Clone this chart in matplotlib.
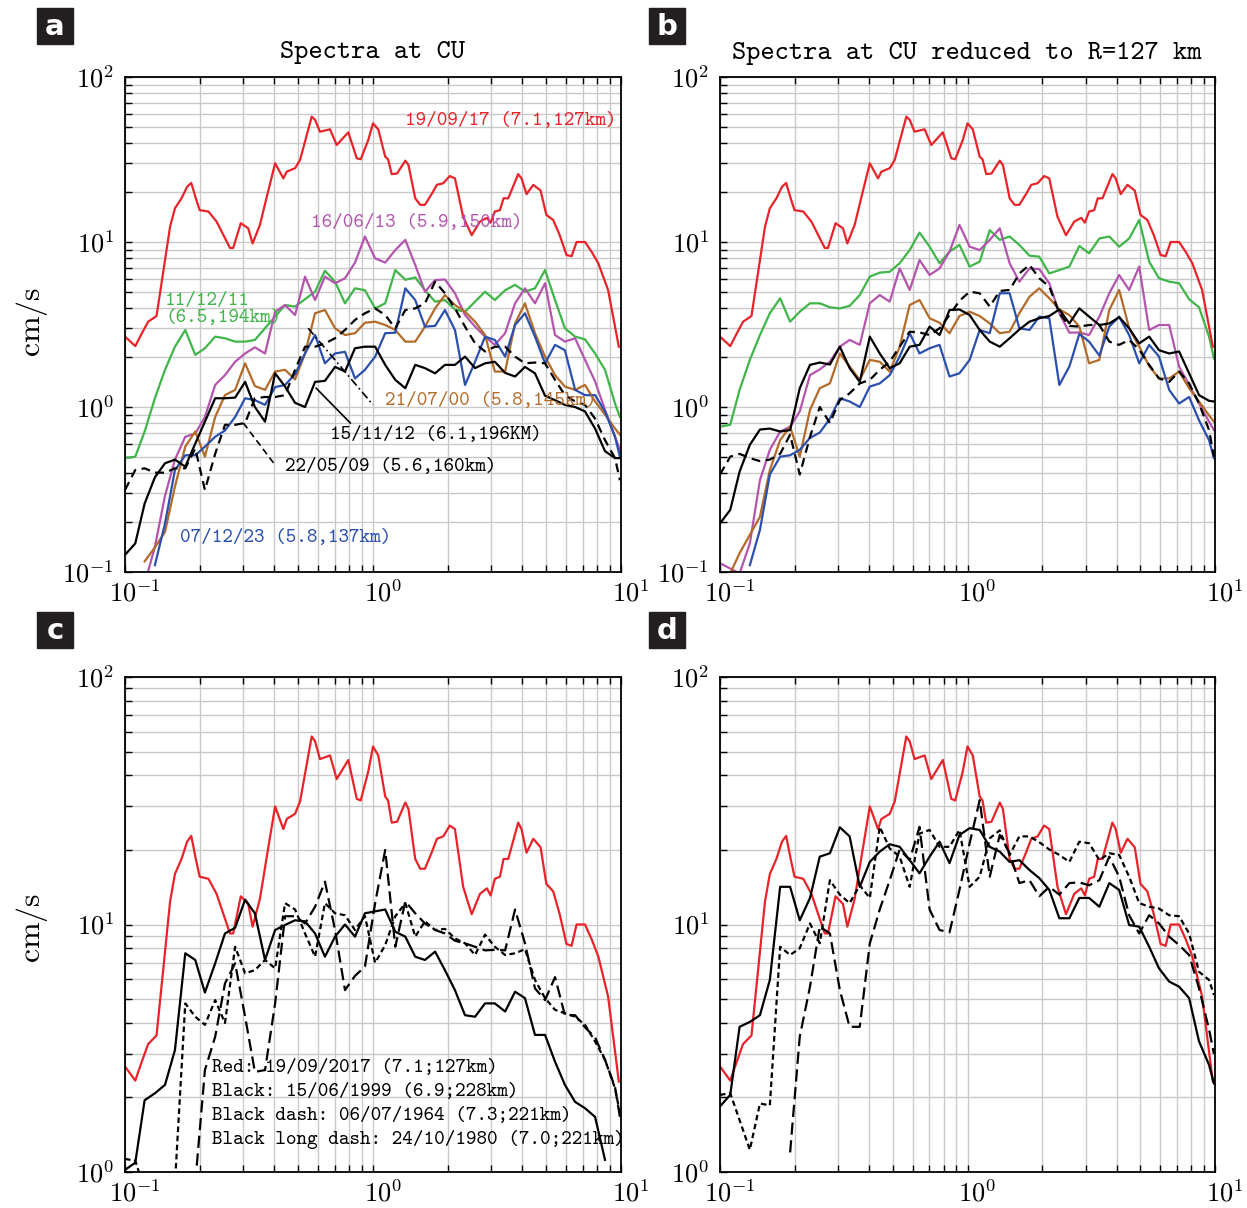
import matplotlib

matplotlib.use('Agg')
import matplotlib.pyplot as plt
import numpy as np
from matplotlib.patches import Rectangle
from matplotlib.ticker import FixedLocator, FuncFormatter, NullFormatter
from matplotlib.transforms import ScaledTranslation

plt.rcParams['mathtext.fontset'] = 'cm'
nan = np.nan

FREQ = [0.100, 0.110, 0.120, 0.132, 0.145, 0.159, 0.175, 0.192, 0.210, 0.231,
        0.253, 0.278, 0.305, 0.334, 0.367, 0.403, 0.442, 0.485, 0.532, 0.584,
        0.640, 0.703, 0.771, 0.846, 0.928, 1.02, 1.12, 1.23, 1.35, 1.48,
        1.62, 1.78, 1.95, 2.14, 2.35, 2.58, 2.83, 3.10, 3.41, 3.74,
        4.10, 4.50, 4.94, 5.42, 5.94, 6.53, 7.16, 7.86, 8.62, 9.46,
        9.90]

# 19/09/17 (same in all panels)
RED_F = [0.100, 0.110, 0.117, 0.124, 0.134, 0.143, 0.152, 0.159, 0.169, 0.178,
         0.185, 0.193, 0.200, 0.217, 0.234, 0.265, 0.273, 0.293, 0.314, 0.327,
         0.350, 0.373, 0.403, 0.435, 0.449, 0.485, 0.508, 0.566, 0.584, 0.611,
         0.671, 0.714, 0.795, 0.860, 0.892, 0.957, 1.00, 1.05, 1.12, 1.15,
         1.19, 1.25, 1.35, 1.39, 1.48, 1.55, 1.62, 1.73, 1.81, 1.92,
         2.04, 2.14, 2.31, 2.50, 2.70, 2.88, 2.98, 3.10, 3.25, 3.36,
         3.51, 3.85, 3.97, 4.16, 4.43, 4.74, 5.00, 5.33, 5.66, 6.03,
         6.32, 6.62, 7.16, 7.62, 8.10, 8.87, 9.80]
RED_V = [2.67, 2.34, 2.8, 3.29, 3.56, 6.76, 12.4, 16.0, 18.4, 21.6,
         22.8, 18.4, 15.6, 15.3, 13.3, 9.2, 9.2, 13.0, 12.1, 9.8,
         12.7, 18.8, 30.0, 24.3, 26.7, 28.0, 31.4, 57.5, 55.0, 46.6,
         48.2, 38.7, 46.2, 32.2, 31.7, 41.5, 52.4, 48.2, 32.9, 31.7,
         25.8, 26.0, 31.1, 29.3, 18.4, 16.8, 16.8, 19.7, 22.2, 22.7,
         25.1, 24.3, 14.2, 11.0, 13.3, 14.0, 13.1, 15.3, 15.6, 18.4,
         18.4, 25.8, 24.3, 19.5, 22.2, 20.5, 14.6, 13.6, 11.0, 8.34,
         8.2, 10.0, 10.0, 8.7, 7.43, 5.12, 2.32]

# panel a: spectra at CU
A_GREEN = [0.49, 0.50, 0.71, 1.13, 1.68, 2.32, 2.93, 2.07, 2.27, 2.67,
           2.61, 2.49, 2.49, 2.55, 3.0, 3.53, 4.15, 4.06, 4.5, 5.0,
           6.7, 5.75, 4.25, 5.24, 5.1, 3.96, 4.25, 6.76, 5.9, 6.1,
           5.1, 4.35, 4.45, 3.9, 3.78, 4.35, 5.0, 4.45, 5.1, 5.5,
           5.0, 5.24, 6.76, 4.45, 3.0, 2.67, 2.57, 2.11, 1.68, 1.05,
           0.87]
A_MAGENTA = [nan, nan, 0.085, 0.142, 0.29, 0.48, 0.66, 0.69, 0.87, 1.36,
             1.56, 1.88, 2.11, 2.3, 2.11, 3.78, 4.15, 3.61, 6.17, 4.45,
             6.17, 5.62, 6.03, 7.5, 10.8, 7.96, 7.5, 8.94, 10.3, 7.26,
             5.0, 5.88, 5.93, 4.89, 3.61, 3.07, 2.67, 2.38, 2.8, 4.25,
             5.24, 4.25, 5.62, 2.73, 2.49, 2.61, 1.93, 1.43, 0.96, 0.66,
             0.55]
A_BROWN = [nan, nan, 0.116, 0.141, 0.175, 0.33, 0.575, 0.71, 0.5, 0.87,
           1.18, 1.27, 1.84, 1.34, 1.27, 1.64, 1.68, 1.47, 2.11, 3.7,
           3.87, 3.0, 2.73, 2.8, 3.24, 3.29, 3.14, 2.93, 2.49, 2.49,
           3.07, 3.96, 4.77, 4.15, 3.78, 3.29, 2.73, 1.64, 1.64, 3.21,
           4.25, 2.8, 2.02, 1.56, 1.33, 1.27, 1.36, 1.08, 0.9, 0.74,
           0.68]
A_BLUE = [nan, nan, nan, 0.11, 0.197, 0.415, 0.51, 0.51, 0.575, 0.66,
          0.72, 0.87, 1.13, 1.1, 1.03, 1.32, 1.36, 1.58, 2.11, 2.73,
          1.84, 2.11, 2.16, 1.49, 1.68, 2.02, 2.8, 2.82, 5.24, 4.45,
          3.07, 3.1, 3.87, 2.93, 1.36, 1.88, 2.67, 2.55, 2.02, 3.14,
          3.7, 2.67, 1.84, 2.38, 2.21, 1.27, 1.18, 1.18, 0.94, 0.66,
          0.5]
A_BLACK = [0.127, 0.149, 0.26, 0.375, 0.456, 0.48, 0.435, 0.60, 0.815, 1.13,
           1.13, 1.14, 1.42, 1.0, 0.815, 1.6, 1.33, 1.06, 1.0, 1.42,
           1.44, 1.75, 1.64, 2.27, 2.32, 2.32, 1.8, 1.46, 1.3, 1.8,
           1.72, 1.6, 1.8, 1.8, 2.02, 1.72, 1.84, 1.88, 1.61, 1.53,
           1.75, 1.6, 1.17, 1.1, 1.03, 1.0, 0.94, 0.74, 0.54, 0.49,
           0.49]
A_BLACK_DASH = [0.314, 0.415, 0.425, 0.4, 0.4, 0.425, 0.425, 0.56, 0.314, 0.52,
                0.78, 0.78, 0.8, 1.13, 1.15, 1.15, 1.18, 1.68, 2.32, 2.32,
                2.43, 2.61, 2.93, 3.37, 3.7, 3.96, 3.61, 3.0, 3.87, 3.96,
                4.25, 5.75, 4.89, 3.96, 3.07, 2.43, 2.17, 2.32, 2.32, 2.02,
                1.84, 1.86, 1.84, 1.46, 1.18, 1.08, 1.03, 0.85, 0.63, 0.49,
                0.36]

# panel b: reduced to R=127 km
B_GREEN = [0.76, 0.78, 1.27, 1.93, 2.73, 3.7, 4.56, 3.29, 3.78, 4.25,
           4.25, 4.02, 3.96, 4.1, 4.77, 6.17, 6.52, 6.6, 7.43, 8.94,
           11.4, 9.37, 7.43, 8.74, 9.6, 7.1, 7.6, 11.8, 10.3, 10.8,
           9.6, 8.26, 8.15, 6.45, 6.76, 7.1, 9.46, 8.54, 10.5, 10.8,
           9.37, 10.5, 13.6, 7.6, 6.03, 5.75, 5.62, 4.5, 4.02, 2.67,
           1.97]
B_MAGENTA = [0.113, 0.105, 0.098, 0.149, 0.36, 0.55, 0.71, 0.76, 0.94, 1.56,
             1.69, 1.88, 2.32, 2.55, 2.38, 4.25, 4.77, 4.35, 6.92, 5.12,
             7.78, 6.31, 6.92, 8.74, 12.7, 9.37, 8.94, 10.3, 12.1, 7.43,
             5.75, 6.92, 6.85, 5.62, 3.7, 2.82, 2.83, 2.73, 3.53, 4.89,
             6.31, 5.12, 7.1, 2.93, 3.14, 3.14, 1.76, 1.36, 1.05, 0.815,
             0.725]
B_BROWN = [nan, 0.098, 0.13, 0.168, 0.216, 0.415, 0.63, 0.76, 0.5, 0.96,
           1.3, 1.39, 2.11, 1.76, 1.46, 1.93, 1.88, 1.64, 2.32, 4.15,
           4.45, 3.45, 3.24, 2.8, 3.56, 3.78, 3.56, 3.21, 2.8, 2.86,
           3.7, 4.66, 5.24, 4.56, 3.9, 3.61, 3.07, 1.84, 1.93, 3.87,
           5.12, 3.0, 2.32, 1.77, 1.49, 1.49, 1.64, 1.3, 1.08, 0.89,
           0.815]
B_BLUE = [nan, nan, nan, 0.11, 0.18, 0.39, 0.5, 0.51, 0.55, 0.65,
          0.7, 0.85, 1.13, 1.08, 1.0, 1.33, 1.39, 1.56, 2.02, 2.8,
          2.11, 2.27, 2.38, 1.53, 1.6, 1.93, 2.93, 2.8, 4.89, 4.89,
          3.0, 2.93, 3.53, 3.45, 1.36, 1.76, 2.77, 2.49, 2.05, 3.07,
          3.53, 2.73, 1.84, 2.38, 2.02, 1.27, 1.05, 1.15, 0.83, 0.63,
          0.49]
B_BLACK = [0.197, 0.238, 0.406, 0.59, 0.73, 0.74, 0.71, 0.725, 1.3, 1.8,
           1.86, 1.81, 2.32, 1.72, 1.42, 2.67, 2.11, 1.72, 1.84, 2.32,
           2.38, 3.07, 2.73, 3.87, 3.9, 3.61, 2.93, 2.49, 2.32, 2.61,
           2.95, 3.29, 3.45, 3.56, 3.9, 3.21, 3.96, 3.53, 3.14, 3.21,
           3.5, 3.0, 2.43, 2.67, 2.21, 2.11, 2.17, 1.6, 1.18, 1.09,
           1.08]
B_BLACK_DASH = [0.39, 0.5, 0.52, 0.49, 0.47, 0.48, 0.52, 0.68, 0.39, 0.66,
                1.0, 0.8, 1.1, 1.21, 1.39, 1.46, 1.68, 1.88, 2.32, 2.86,
                2.83, 2.73, 3.0, 3.61, 4.4, 5.0, 4.89, 4.06, 5.05, 5.12,
                6.45, 7.26, 6.03, 5.37, 3.7, 3.1, 3.07, 3.14, 3.14, 2.49,
                2.38, 2.55, 2.23, 1.8, 1.49, 1.42, 1.64, 1.39, 1.05, 0.725,
                0.5]

# panel c: historical events at CU
C_BLACK = [1.02, 1.09, 1.95, 2.08, 2.25, 3.11, 7.65, 7.19, 5.31, 6.97,
           9.2, 9.7, 12.6, 11.1, 7.19, 9.5, 9.96, 10.4, 10.3, 9.2,
           7.41, 8.93, 10.0, 8.93, 11.1, 11.3, 11.5, 9.35, 8.93, 7.41,
           7.19, 7.77, 6.54, 5.43, 4.3, 4.24, 4.8, 4.8, 4.45, 5.35,
           5.04, 3.58, 3.58, 2.79, 2.25, 1.92, 1.81, 1.67, 1.12, nan,
           nan]
C_DASH = [1.13, 1.11, 0.85, 0.8, 0.95, 0.9, 4.8, 4.24, 3.93, 4.95,
          4.0, 8.13, 6.35, 6.54, 7.19, 6.65, 12.2, 11.5, 9.2, 7.41,
          12.2, 11.1, 10.9, 9.5, 10.8, 7.0, 8.26, 10.8, 12.2, 8.93,
          10.3, 9.5, 9.6, 8.79, 8.39, 7.53, 9.1, 8.13, 7.53, 7.65,
          7.95, 5.97, 5.04, 4.52, 4.38, 4.24, 3.93, 3.37, 2.84, 2.18,
          1.73]
C_LONGDASH = [nan, nan, nan, nan, nan, nan, nan, 0.9, 2.58, 3.52,
              5.78, 6.97, 4.24, 2.54, 2.58, 4.8, 10.8, 10.8, 10.1, 11.8,
              14.9, 9.5, 5.43, 6.2, 6.76, 12.2, 20.0, 8.13, 12.4, 11.1,
              10.1, 9.5, 9.2, 8.6, 8.39, 8.13, 7.86, 7.9, 7.86, 11.5,
              8.39, 5.52, 4.95, 6.13, 4.3, 4.3, 3.84, 3.5, 2.84, 2.2,
              1.67]

# panel d: historical events reduced
D_BLACK = [1.84, 2.05, 3.86, 4.04, 4.3, 5.97, 14.2, 14.2, 10.4, 12.8,
           18.8, 19.4, 24.7, 22.7, 14.2, 17.9, 19.7, 21.1, 20.6, 18.2,
           16.1, 18.8, 21.6, 17.7, 23.0, 24.5, 24.1, 20.6, 19.7, 17.9,
           18.2, 16.6, 15.4, 13.8, 10.6, 10.6, 12.8, 12.8, 11.8, 14.7,
           13.8, 9.95, 9.8, 8.13, 6.65, 5.88, 5.61, 5.04, 3.37, 2.71,
           2.28]
D_DASH = [2.05, 2.08, 1.62, 1.23, 1.89, 1.86, 8.13, 7.53, 8.02, 10.1,
          8.4, 15.1, 13.2, 12.2, 14.4, 12.8, 24.8, 20.3, 18.8, 14.2,
          23.3, 24.1, 20.6, 20.6, 24.1, 14.2, 15.6, 22.3, 24.0, 19.1,
          22.7, 22.7, 21.5, 20.1, 19.1, 17.9, 21.6, 21.3, 18.2, 19.4,
          19.1, 15.6, 12.2, 11.8, 11.6, 10.9, 10.8, 9.2, 6.44, 5.97,
          5.19]
D_LONGDASH = [nan, nan, nan, nan, nan, nan, nan, 1.2, 3.52, 5.61,
              9.8, 9.2, 5.43, 3.86, 3.86, 8.39, 11.5, 15.1, 20.1, 18.2,
              24.8, 11.5, 9.5, 9.3, 13.8, 21.3, 31.8, 15.6, 23.0, 19.4,
              14.7, 15.1, 13.0, 14.2, 13.2, 14.7, 14.8, 14.4, 15.1, 18.8,
              15.6, 10.9, 9.2, 10.9, 10.1, 8.93, 8.26, 7.53, 5.52, 3.77,
              3.0]

RED = '#e8232a'
MAGENTA = '#b455ad'
GREEN = '#3fb54a'
BROWN = '#b36b2a'
BLUE = '#2b4fad'
MONO = ['cmtt10', 'DejaVu Sans Mono']
LW = 1.6
DASH = (4, 2.5)
SHORT_DASH = (2.5, 1.6)
LONG_DASH = (5.5, 2.5)


def style_axes(ax, ymin):
    ax.set_xscale('log')
    ax.set_yscale('log')
    ax.set_xlim(0.1, 10)
    ax.set_ylim(ymin, 100)
    ax.set_axisbelow(True)
    ax.grid(True, which='both', color='#c9c9c9', lw=1.0)
    ax.xaxis.set_major_locator(FixedLocator([0.1, 1, 10]))
    ax.yaxis.set_major_locator(FixedLocator([v for v in [0.1, 1, 10, 100] if v >= ymin]))
    sub = [m * 10.0 ** e for e in range(-2, 3) for m in range(2, 10)]
    ax.xaxis.set_minor_locator(FixedLocator(sub))
    ax.yaxis.set_minor_locator(FixedLocator(sub))
    fmt = FuncFormatter(lambda v, pos: r'$10^{%d}$' % round(np.log10(v)))
    ax.xaxis.set_major_formatter(fmt)
    ax.yaxis.set_major_formatter(fmt)
    ax.xaxis.set_minor_formatter(NullFormatter())
    ax.yaxis.set_minor_formatter(NullFormatter())
    ax.tick_params(which='both', direction='in', top=True, right=False,
                   length=5, width=1.0, labelsize=19)
    ax.tick_params(axis='y', pad=8)
    ax.tick_params(axis='x', pad=6)
    for s in ax.spines.values():
        s.set_linewidth(1.3)
    # keep the "10" of each x label centred on its tick
    for tick in ax.xaxis.get_major_ticks():
        dx = 10 if tick.get_loc() < 0.5 else 5
        tick.label1.set_transform(tick.label1.get_transform()
                                  + ScaledTranslation(dx / 100, 0, fig.dpi_scale_trans))


def draw_red(ax):
    ax.plot(RED_F, RED_V, color=RED, lw=LW)


fig = plt.figure(figsize=(12.47, 12.08), dpi=100)
W, H = 1247.0, 1208.0
ax_a = fig.add_axes([125 / W, 1 - 572 / H, 496 / W, 495 / H])
ax_b = fig.add_axes([720 / W, 1 - 572 / H, 495 / W, 495 / H])
ax_c = fig.add_axes([125 / W, 1 - 1172 / H, 496 / W, 495 / H])
ax_d = fig.add_axes([720 / W, 1 - 1172 / H, 495 / W, 495 / H])

# --- panels a and b ---
for ax, curves in [(ax_a, (A_GREEN, A_MAGENTA, A_BROWN, A_BLUE, A_BLACK, A_BLACK_DASH)),
                   (ax_b, (B_GREEN, B_MAGENTA, B_BROWN, B_BLUE, B_BLACK, B_BLACK_DASH))]:
    style_axes(ax, 0.1)
    green, magenta, brown, blue, black, black_dash = curves
    ax.plot(FREQ, green, color=GREEN, lw=LW)
    ax.plot(FREQ, magenta, color=MAGENTA, lw=LW)
    ax.plot(FREQ, brown, color=BROWN, lw=LW)
    ax.plot(FREQ, blue, color=BLUE, lw=LW)
    ax.plot(FREQ, black, color='black', lw=LW)
    ax.plot(FREQ, black_dash, color='black', lw=LW, dashes=DASH)
    draw_red(ax)

# labels of panel a
lab = dict(family=MONO, fontsize=14.5, ha='left', va='center')
ax_a.text(1.35, 54, '19/09/17 (7.1,127km)', color=RED, **lab)
ax_a.text(0.562, 13.0, '16/06/13 (5.9,150km)', color=MAGENTA, **lab)
ax_a.text(0.145, 4.4, '11/12/11', color=GREEN, **lab)
ax_a.text(0.145, 3.45, '(6.5,194km)', color=GREEN, **lab)
ax_a.text(1.12, 1.09, '21/07/00 (5.8,145km)', color=BROWN, **lab)
ax_a.text(0.671, 0.676, '15/11/12 (6.1,196KM)', color='black', **lab)
ax_a.text(0.442, 0.433, '22/05/09 (5.6,160km)', color='black', **lab)
ax_a.text(0.167, 0.161, '07/12/23 (5.8,137km)', color=BLUE, **lab)
ax_a.plot([0.59, 0.81], [1.3, 0.80], color='black', lw=1.2)
ax_a.plot([0.30, 0.403], [0.80, 0.445], color='black', lw=1.2, dashes=(4, 2.5))
ax_a.plot([0.548, 1.0], [3.0, 1.03], color='black', lw=1.2, dashes=(5, 2, 1, 2))

# --- panels c and d ---
for ax, curves in [(ax_c, (C_BLACK, C_DASH, C_LONGDASH)),
                   (ax_d, (D_BLACK, D_DASH, D_LONGDASH))]:
    style_axes(ax, 1)
    black, dash, longdash = curves
    draw_red(ax)
    ax.plot(FREQ, black, color='black', lw=LW)
    ax.plot(FREQ, dash, color='black', lw=LW, dashes=SHORT_DASH)
    ax.plot(FREQ, longdash, color='black', lw=LW, dashes=LONG_DASH)

leg = dict(family=MONO, fontsize=14.5, ha='left', va='center', color='black')
ax_c.text(0.224, 2.63, 'Red: 19/09/2017 (7.1;127km)', **leg)
ax_c.text(0.224, 2.10, 'Black: 15/06/1999 (6.9;228km)', **leg)
ax_c.text(0.224, 1.68, 'Black dash: 06/07/1964 (7.3;221km)', **leg)
ax_c.text(0.224, 1.35, 'Black long dash: 24/10/1980 (7.0;221km)', **leg)

# titles, y labels, panel letters
fig.text(373 / W, 1 - 53 / H, 'Spectra at CU', family=MONO, fontsize=19.5,
         ha='center', va='center')
fig.text(967 / W, 1 - 53 / H, 'Spectra at CU reduced to R=127 km', family=MONO,
         fontsize=19.5, ha='center', va='center')
for yc in (322, 928):
    fig.text(32 / W, 1 - yc / H, r'$\mathrm{cm/s}$', rotation=90, fontsize=23,
             ha='center', va='center')
for letter, x0, y0 in [('a', 37, 8), ('b', 649, 8), ('c', 37, 612), ('d', 649, 612)]:
    fig.patches.append(Rectangle((x0 / W, 1 - (y0 + 36) / H), 36 / W, 36 / H,
                                 transform=fig.transFigure, color='#231f20'))
    fig.text((x0 + 18) / W, 1 - (y0 + 19) / H, letter, color='white', fontsize=21,
             fontweight='bold', ha='center', va='center')

fig.savefig('out.png', dpi=100)
plt.close(fig)
